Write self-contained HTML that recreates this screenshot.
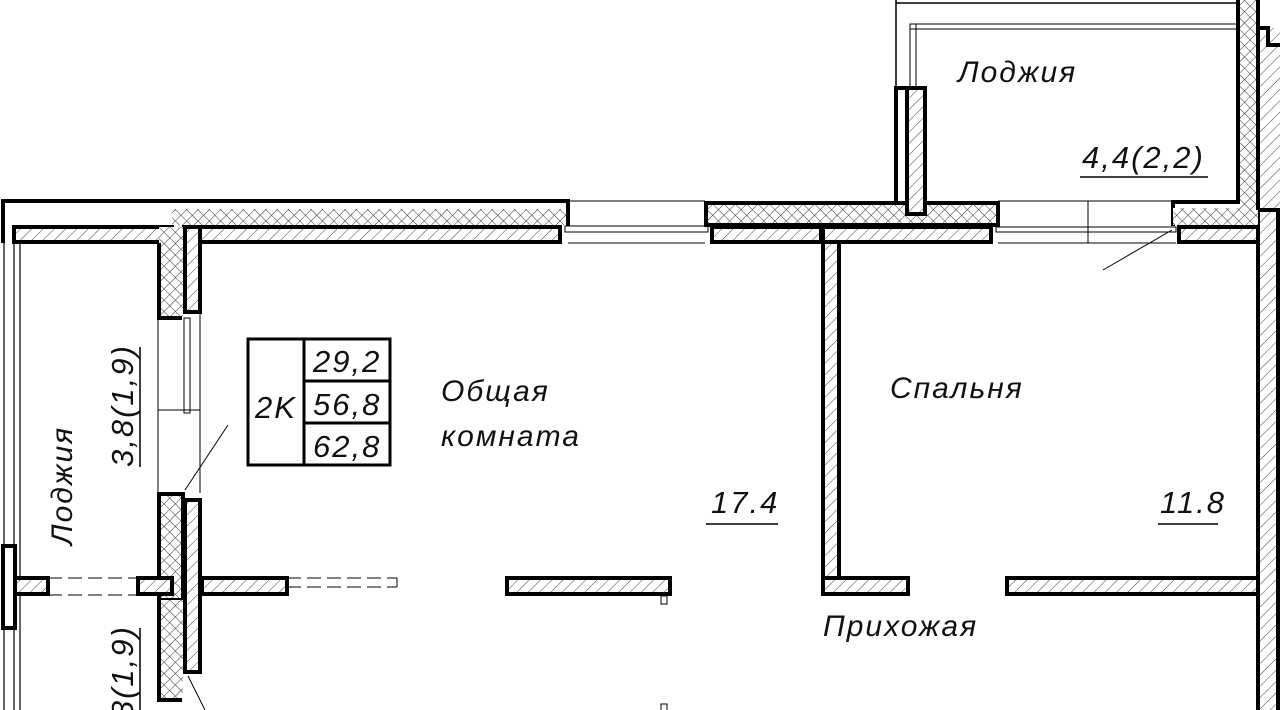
<!DOCTYPE html>
<html><head><meta charset="utf-8"><style>
html,body{margin:0;padding:0;background:#fff;width:1280px;height:710px;overflow:hidden}
svg{display:block;overflow:hidden}
text{font-family:"Liberation Sans","DejaVu Sans",sans-serif;font-style:italic;fill:#111;letter-spacing:2px}
</style></head><body>
<svg width="1280" height="710" viewBox="0 0 1280 710" xmlns="http://www.w3.org/2000/svg">
<defs>
<pattern id="h" width="8" height="8" patternUnits="userSpaceOnUse" patternTransform="rotate(45)">
<rect width="8" height="8" fill="#fff"/><line x1="0" y1="0" x2="0" y2="8" stroke="#444" stroke-width="1"/></pattern>
<pattern id="x" width="8" height="8" patternUnits="userSpaceOnUse" patternTransform="rotate(45)">
<rect width="8" height="8" fill="#fff"/><line x1="0" y1="0" x2="0" y2="8" stroke="#333" stroke-width="1"/><line x1="0" y1="0" x2="8" y2="0" stroke="#333" stroke-width="1"/></pattern>
<clipPath id="c"><rect width="1280" height="710"/></clipPath>
</defs>
<g clip-path="url(#c)">
<g stroke="#000" fill="none">
<path d="M3,243 V201 H568 V226" stroke-width="4"/>
<rect x="172" y="209" width="394" height="16" fill="url(#x)" stroke="none"/>
<rect x="14" y="227" width="158" height="15" fill="url(#h)" stroke-width="4"/>
<rect x="184" y="227" width="376" height="15" fill="url(#h)" stroke-width="4"/>
<rect x="159" y="227" width="24" height="91" fill="url(#x)" stroke="none"/>
<path d="M159,243 V318 H182" stroke-width="4"/>
<rect x="185" y="227" width="15" height="85" fill="url(#h)" stroke-width="4"/>
<line x1="4" y1="243" x2="4" y2="710" stroke-width="1.2"/>
<line x1="14" y1="243" x2="14" y2="710" stroke-width="1.2"/>
<line x1="20" y1="243" x2="20" y2="710" stroke-width="1.2"/>
<line x1="158" y1="318" x2="158" y2="493" stroke-width="1"/>
<line x1="200" y1="312" x2="200" y2="493" stroke-width="1"/>
<rect x="184" y="318" width="6" height="95" stroke-width="1"/>
<line x1="158" y1="410" x2="200" y2="410" stroke-width="1"/>
<line x1="568" y1="201" x2="705" y2="201" stroke-width="1"/>
<rect x="565" y="226" width="143" height="6" stroke-width="1"/>
<line x1="568" y1="243" x2="705" y2="243" stroke-width="1"/>
<rect x="706" y="203" width="292" height="22" fill="url(#x)" stroke-width="4"/>
<rect x="712" y="227" width="109" height="15" fill="url(#h)" stroke-width="4"/>
<rect x="823" y="227" width="168" height="15" fill="url(#h)" stroke-width="4"/>
<rect x="823" y="242" width="16" height="336" fill="url(#h)" stroke-width="4"/>
<rect x="823" y="578" width="85" height="16" fill="url(#h)" stroke-width="4"/>
<rect x="1007" y="578" width="251" height="16" fill="url(#h)" stroke-width="4"/>
<rect x="1258" y="210" width="20" height="510" fill="url(#h)" stroke-width="4"/>
<rect x="1238" y="0" width="20" height="226" fill="url(#x)" stroke="none"/>
<path d="M1238,0 V202 H1173 V226" stroke-width="4"/>
<rect x="1173" y="208" width="85" height="17" fill="url(#x)" stroke="none"/>
<rect x="1179" y="227" width="79" height="15" fill="url(#h)" stroke-width="4"/>
<rect x="1260" y="28" width="20" height="180" fill="url(#h)" stroke="none"/>
<path d="M1258,0 V210 M1258,28 H1268 V45 H1280" stroke-width="4"/>
<path d="M896,0 V88" stroke-width="1.5"/>
<line x1="896" y1="3" x2="1238" y2="3" stroke-width="1.5"/>
<rect x="910" y="24" width="328" height="5" stroke-width="1"/>
<rect x="910" y="24" width="6" height="64" stroke-width="1"/>
<rect x="896" y="88" width="11" height="115" fill="#fff" stroke-width="4"/>
<rect x="907" y="88" width="18" height="126" fill="url(#h)" stroke-width="4"/>
<line x1="998" y1="201" x2="1173" y2="201" stroke-width="1"/>
<rect x="996" y="227" width="180" height="5" stroke-width="1"/>
<line x1="1088" y1="201" x2="1088" y2="243" stroke-width="1"/>
<line x1="998" y1="243" x2="1176" y2="243" stroke-width="1"/>
<rect x="159" y="494" width="24" height="106" fill="url(#x)" stroke-width="4"/>
<rect x="185" y="500" width="15" height="172" fill="url(#h)" stroke-width="4"/>
<rect x="159" y="600" width="24" height="100" fill="url(#x)" stroke-width="0"/>
<path d="M159,600 V700 H182" stroke-width="4"/>
<rect x="14" y="578" width="34" height="16" fill="url(#h)" stroke-width="4"/>
<rect x="138" y="578" width="34" height="16" fill="url(#h)" stroke-width="4"/>
<rect x="202" y="578" width="85" height="16" fill="url(#h)" stroke-width="4"/>
<rect x="3" y="546" width="12" height="82" fill="#fff" stroke-width="4"/>
<g stroke-dasharray="14,6" stroke-width="1"><line x1="48" y1="578" x2="138" y2="578"/><line x1="48" y1="595" x2="138" y2="595"/><line x1="287" y1="578" x2="397" y2="578"/><line x1="287" y1="587" x2="397" y2="587"/></g>
<line x1="397" y1="578" x2="397" y2="587" stroke-width="1"/>
<rect x="507" y="578" width="163" height="16" fill="url(#h)" stroke-width="4"/>
<rect x="661" y="596" width="6" height="8" stroke-width="1"/>
<rect x="661" y="704" width="6" height="8" stroke-width="1"/>
<line x1="1103" y1="270" x2="1172" y2="230" stroke-width="1"/>
<line x1="185" y1="490" x2="228" y2="425" stroke-width="1"/>
<line x1="188" y1="676" x2="205" y2="710" stroke-width="1"/>
<line x1="1080" y1="177" x2="1208" y2="177" stroke-width="1.5"/>
<line x1="706" y1="524" x2="778" y2="524" stroke-width="1.5"/>
<line x1="1158" y1="524" x2="1218" y2="524" stroke-width="1.5"/>
<line x1="140" y1="347" x2="140" y2="467" stroke-width="1.5"/>
<line x1="140" y1="628" x2="140" y2="710" stroke-width="1.5"/>
<rect x="248" y="339" width="142" height="126" stroke-width="3"/>
<line x1="304" y1="339" x2="304" y2="465" stroke-width="3"/>
<line x1="304" y1="381" x2="390" y2="381" stroke-width="3"/>
<line x1="304" y1="423" x2="390" y2="423" stroke-width="3"/>
</g>
<g font-size="30">
<text x="313" y="372" font-size="31" letter-spacing="1">29,2</text>
<text x="313" y="415" font-size="31" letter-spacing="1">56,8</text>
<text x="313" y="457" font-size="31" letter-spacing="1">62,8</text>
<text x="255" y="418" font-size="31">2K</text>
<text x="441" y="401" letter-spacing="4">Общая</text>
<text x="441" y="446" letter-spacing="4">комната</text>
<text x="890" y="398" letter-spacing="4">Спальня</text>
<text x="823" y="636" letter-spacing="3">Прихожая</text>
<text x="958" y="82" letter-spacing="3">Лоджия</text>
<text x="1082" y="168" font-size="31" letter-spacing="3">4,4(2,2)</text>
<text x="711" y="513" font-size="31">17.4</text>
<text x="1160" y="513" font-size="31">11.8</text>
<text transform="translate(72,545) rotate(-90)" letter-spacing="4">Лоджия</text>
<text transform="translate(133,467) rotate(-90)" font-size="31">3,8(1,9)</text>
<text transform="translate(133,748) rotate(-90)" font-size="31">3,8(1,9)</text>
</g>
</g>
</svg>
</body></html>
